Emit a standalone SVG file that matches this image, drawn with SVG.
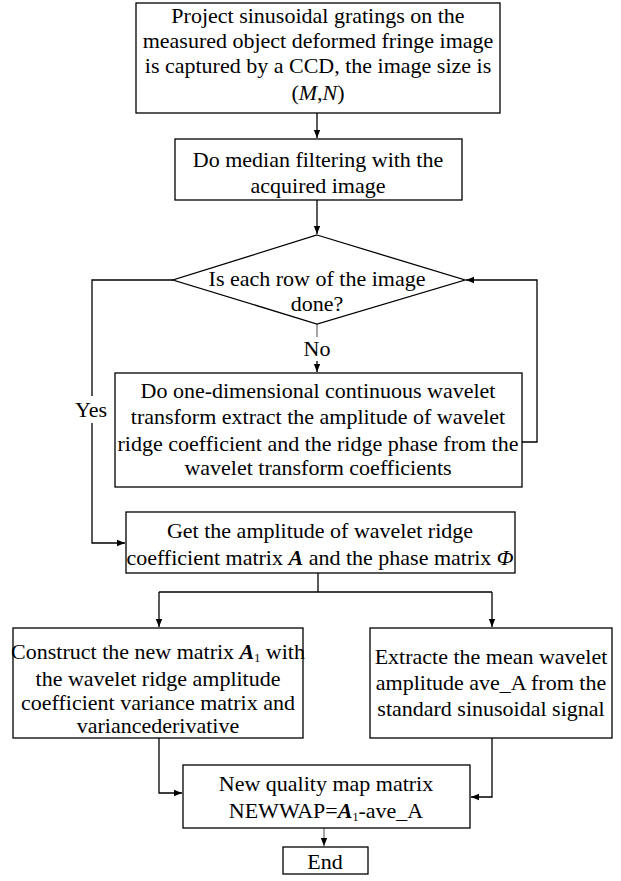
<svg xmlns="http://www.w3.org/2000/svg" width="621" height="881" viewBox="0 0 621 881">
<style>
.box{fill:#fff;stroke:#000;stroke-width:1.3}
.t{font-family:'Liberation Serif','DejaVu Serif',serif;font-size:22px;fill:#000;text-anchor:middle}
.ln{fill:none;stroke:#000;stroke-width:1.3}
.g{stroke:#777}
.i{font-style:italic}
.bi{font-style:italic;font-weight:bold}
</style>
<defs>
<marker id="ah" viewBox="0 0 10 10" refX="10" refY="5" markerWidth="8" markerHeight="8" markerUnits="userSpaceOnUse" orient="auto">
<path d="M0,1 L10,5 L0,9 Z" fill="#000"/>
</marker>
</defs>
<rect width="621" height="881" fill="#fff"/>
<g id="connectors">
<path class="ln" d="M317,113 V138" marker-end="url(#ah)"/>
<path class="ln" d="M317,200 V234" marker-end="url(#ah)"/>
<path class="ln g" d="M317,324 V337"/>
<path class="ln" d="M317,361 V372" marker-end="url(#ah)"/>
<path class="ln" d="M522,442 H537 V280 H466" marker-end="url(#ah)"/>
<path class="ln" d="M173,280 H92 V396 M92,423 V543 H125" marker-end="url(#ah)"/>
<path class="ln" d="M318,573 V592"/>
<path class="ln" d="M159,592 H492"/>
<path class="ln" d="M159,592 V627" marker-end="url(#ah)"/>
<path class="ln" d="M492,592 V627" marker-end="url(#ah)"/>
<path class="ln" d="M159,738 V793 H182" marker-end="url(#ah)"/>
<path class="ln" d="M492,738 V797 H471" marker-end="url(#ah)"/>
<path class="ln g" d="M324,828 V846" marker-end="url(#ah)"/>
<text class="t" x="317" y="356">No</text>
<text class="t" x="91" y="417">Yes</text>
</g>
<g id="n1">
<rect class="box" x="136" y="3" width="364" height="110"/>
<text class="t" x="318" y="23">Project sinusoidal gratings on the</text>
<text class="t" x="318" y="48">measured object deformed fringe image</text>
<text class="t" x="318" y="73">is captured by a CCD, the image size is</text>
<text class="t" x="318" y="100">(<tspan class="i">M</tspan>,<tspan class="i">N</tspan>)</text>
</g>
<g id="n2">
<rect class="box" x="175" y="139" width="287" height="61"/>
<text class="t" x="318" y="167">Do median filtering with the</text>
<text class="t" x="318" y="193">acquired image</text>
</g>
<g id="n3">
<path class="box" d="M317,235 L465,280 L317,324 L173,280 Z"/>
<text class="t" x="317" y="286">Is each row of the image</text>
<text class="t" x="317" y="311">done?</text>
</g>
<g id="n4">
<rect class="box" x="115" y="373" width="407" height="114"/>
<text class="t" x="318" y="398">Do one-dimensional continuous wavelet</text>
<text class="t" x="318" y="424">transform extract the amplitude of wavelet</text>
<text class="t" x="318" y="451">ridge coefficient and the ridge phase from the</text>
<text class="t" x="318" y="475">wavelet transform coefficients</text>
</g>
<g id="n5">
<rect class="box" x="126" y="512" width="389" height="61"/>
<text class="t" x="320" y="538">Get the amplitude of wavelet ridge</text>
<text class="t" x="320" y="565">coefficient matrix <tspan class="bi">A</tspan> and the phase matrix <tspan class="i">Φ</tspan></text>
</g>
<g id="n6">
<rect class="box" x="13" y="628" width="290" height="110"/>
<text class="t" x="158" y="659" font-size="21.3">Construct the new matrix <tspan class="bi">A</tspan><tspan font-size="12" dy="3">1</tspan><tspan dy="-3"> with</tspan></text>
<text class="t" x="158" y="686">the wavelet ridge amplitude</text>
<text class="t" x="158" y="710">coefficient variance matrix and</text>
<text class="t" x="158" y="733">variancederivative</text>
</g>
<g id="n7">
<rect class="box" x="370" y="628" width="242" height="110"/>
<text class="t" x="491" y="664">Extracte the mean wavelet</text>
<text class="t" x="491" y="690">amplitude ave_A from the</text>
<text class="t" x="491" y="716">standard sinusoidal signal</text>
</g>
<g id="n8">
<rect class="box" x="183" y="765" width="287" height="63"/>
<text class="t" x="326" y="791">New quality map matrix</text>
<text class="t" x="326" y="818">NEWWAP=<tspan class="bi">A</tspan><tspan font-size="12" dy="3">1</tspan><tspan dy="-3">-ave_A</tspan></text>
</g>
<g id="n9">
<rect class="box" x="283" y="847" width="85" height="27"/>
<text class="t" x="325" y="869">End</text>
</g>
</svg>
